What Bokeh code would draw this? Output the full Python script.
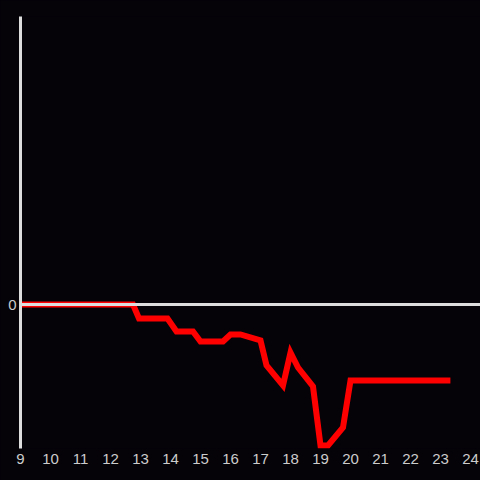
from bokeh.plotting import figure
from bokeh.models import Range1d, Span, FixedTicker
from bokeh.embed import file_html
from bokeh.resources import INLINE

hours = [9, 12.75, 12.95, 13.9, 14.2, 14.75, 15, 15.75, 16, 16.33, 17, 17.2, 17.75,
         18, 18.25, 18.75, 19, 19.25, 19.75, 20, 23.33]
values = [0, 0, -14, -14, -27, -27, -37, -37, -30, -30, -36, -61, -81,
          -48, -63, -82, -141, -141, -123, -76, -76]
x_ticks = list(range(9, 25))
y_ticks = [0]

BG = "#050308"
AXIS = "#dddddd"

p = figure(width=480, height=480, output_backend="svg", toolbar_location=None,
           x_range=Range1d(9, 24.333), y_range=Range1d(-144, 288),
           background_fill_color=BG, border_fill_color=BG,
           min_border_left=20, min_border_right=0, min_border_top=16, min_border_bottom=32,
           outline_line_color=None)
p.grid.visible = False

p.add_layout(Span(location=0, dimension="width", line_color=AXIS, line_width=3))

p.line(hours, values, line_color="#ff0000", line_width=6, line_join="miter")

p.xaxis.ticker = FixedTicker(ticks=x_ticks)
p.yaxis.ticker = FixedTicker(ticks=y_ticks)
for ax in (p.xaxis, p.yaxis):
    ax.major_tick_out = 0
    ax.major_tick_in = 0
    ax.minor_tick_out = 0
    ax.minor_tick_in = 0
    ax.major_label_text_color = "#cccccc"
    ax.major_label_text_font = "Liberation Sans"
    ax.major_label_text_font_size = "15px"
p.xaxis.major_label_standoff = 5
p.yaxis.major_label_standoff = 4
p.xaxis.axis_line_color = None
p.yaxis.axis_line_color = AXIS
p.yaxis.axis_line_width = 3

template = "{% block preamble %}{{ super() }}<style>html,body{background:#050308;}</style>{% endblock %}"
open("out.html", "w").write(file_html(p, INLINE, template=template))
